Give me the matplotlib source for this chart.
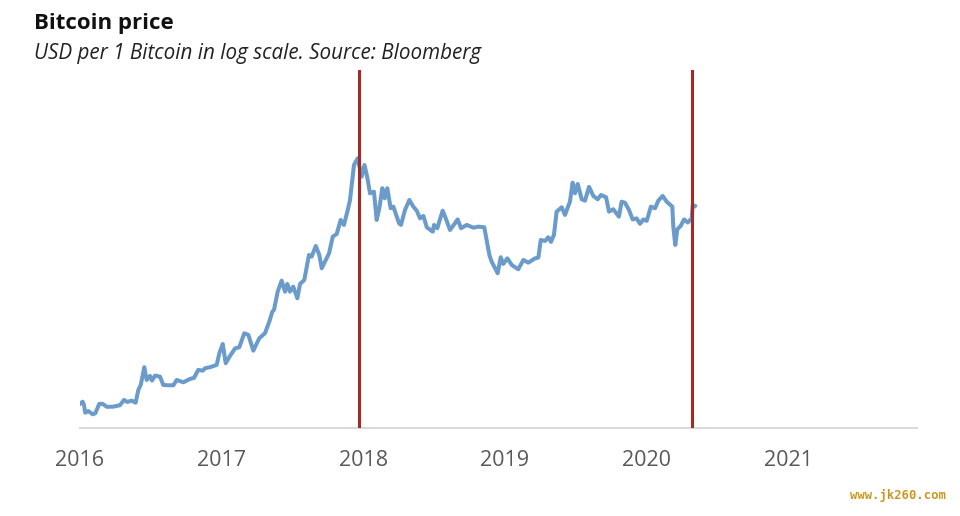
import matplotlib
matplotlib.use("Agg")
import matplotlib.pyplot as plt

# decimal year, USD per bitcoin
years = [
    2016.000, 2016.019, 2016.028, 2016.037, 2016.059, 2016.090, 2016.108, 2016.136, 2016.160, 2016.189,
    2016.235, 2016.282, 2016.311, 2016.334, 2016.365, 2016.393, 2016.412, 2016.429, 2016.454, 2016.471,
    2016.494, 2016.508, 2016.530, 2016.565, 2016.588, 2016.624, 2016.659, 2016.683, 2016.730, 2016.777,
    2016.805, 2016.835, 2016.867, 2016.883, 2016.918, 2016.965, 2016.984, 2017.008, 2017.029, 2017.059,
    2017.095, 2017.125, 2017.160, 2017.189, 2017.224, 2017.266, 2017.306, 2017.337, 2017.358, 2017.370,
    2017.396, 2017.424, 2017.448, 2017.464, 2017.483, 2017.506, 2017.535, 2017.554, 2017.584, 2017.617,
    2017.636, 2017.665, 2017.690, 2017.707, 2017.730, 2017.759, 2017.785, 2017.813, 2017.841, 2017.864,
    2017.888, 2017.907, 2017.935, 2017.961, 2017.989, 2018.009, 2018.030, 2018.048, 2018.076, 2018.095,
    2018.114, 2018.135, 2018.152, 2018.170, 2018.194, 2018.213, 2018.253, 2018.267, 2018.295, 2018.326,
    2018.354, 2018.378, 2018.401, 2018.425, 2018.449, 2018.491, 2018.500, 2018.523, 2018.561, 2018.583,
    2018.613, 2018.648, 2018.667, 2018.691, 2018.731, 2018.778, 2018.813, 2018.855, 2018.891, 2018.907,
    2018.950, 2018.971, 2018.989, 2019.018, 2019.049, 2019.095, 2019.131, 2019.166, 2019.213, 2019.237,
    2019.254, 2019.284, 2019.307, 2019.326, 2019.347, 2019.366, 2019.402, 2019.425, 2019.460, 2019.479,
    2019.496, 2019.515, 2019.543, 2019.566, 2019.595, 2019.625, 2019.656, 2019.679, 2019.715, 2019.736,
    2019.766, 2019.806, 2019.825, 2019.849, 2019.877, 2019.903, 2019.931, 2019.955, 2019.978, 2020.002,
    2020.032, 2020.061, 2020.084, 2020.115, 2020.143, 2020.183, 2020.190, 2020.204, 2020.218, 2020.242,
    2020.266, 2020.292, 2020.320, 2020.327, 2020.343,
]
price = [
    434, 449, 427, 379, 389, 370, 376, 434, 434, 415,
    416, 425, 461, 447, 456, 442, 537, 580, 761, 626,
    666, 620, 669, 659, 580, 577, 577, 626, 604, 636,
    646, 730, 722, 749, 761, 788, 942, 1086, 809, 904,
    1015, 1033, 1279, 1247, 980, 1185, 1279, 1528, 1781, 1828,
    2419, 2863, 2419, 2722, 2419, 2612, 2185, 2722, 2894, 4243,
    4135, 4869, 4243, 3460, 3829, 4353, 5614, 5851, 7249, 6717,
    8231, 9845, 16825, 18650, 14066, 16825, 13740, 10904, 11178, 7249,
    8672, 11790, 10100, 11790, 8672, 8886, 6890, 6717, 8448, 9845,
    8886, 8358, 7430, 7708, 6484, 6060, 6717, 6385, 8358, 7430,
    6220, 6890, 7310, 6385, 6717, 6445, 6545, 6484, 4243, 3829,
    3205, 4098, 3697, 4025, 3641, 3408, 3930, 3770, 4025, 4080,
    5337, 5257, 5565, 5185, 5763, 8231, 8808, 7827, 9592, 12827,
    10904, 12578, 9950, 9740, 12040, 10468, 9950, 10630, 10263, 8231,
    8538, 7630, 9592, 9430, 8448, 7310, 7430, 6830, 7310, 7150,
    8886, 8672, 9740, 10468, 9592, 8886, 6545, 4945, 6280, 6614,
    7310, 6970, 7430, 9121, 8980,
]
tick_years = [2016, 2017, 2018, 2019, 2020, 2021]
event_years = [2017.970, 2020.322]

plt.rcParams['font.family'] = ['Open Sans', 'DejaVu Sans']

fig = plt.figure(figsize=(9.6, 5.16), dpi=100)
ax = fig.add_axes([80 / 960, 88 / 516, 837 / 960, 358 / 516])

ax.plot(years, price, color='#6b9bca', lw=2.9, solid_joinstyle='round', zorder=2)
for yr in event_years:
    ax.axvline(yr, color='#a32a25', lw=2.2, zorder=3)

ax.set_yscale('log')
ax.set_xlim(2016, 2021.911)
ax.set_ylim(300, 72000)
ax.set_yticks([])
ax.minorticks_off()
ax.set_xticks(tick_years)
ax.set_xticklabels([str(y) for y in tick_years])
ax.tick_params(axis='x', length=0, pad=16, labelsize=15.5, labelcolor='#595959')

for side in ['top', 'left', 'right']:
    ax.spines[side].set_visible(False)
ax.spines['bottom'].set_color('#d9d9d9')
ax.spines['bottom'].set_linewidth(1.4)

fig.text(34 / 960, 1 - 24 / 516, 'Bitcoin price', fontsize=16, fontweight='bold',
         color='#111111', va='center')
fig.text(34 / 960, 1 - 54 / 516, 'USD per 1 Bitcoin in log scale. Source: Bloomberg',
         fontsize=14.9, style='italic', color='#222222', va='center')
fig.text(898 / 960, 1 - 496 / 516, 'www.jk260.com', fontsize=8.8, fontweight='bold',
         family='DejaVu Sans Mono', color='#c9981f', ha='center', va='center')

plt.savefig('out.png', dpi=100)
plt.close()
